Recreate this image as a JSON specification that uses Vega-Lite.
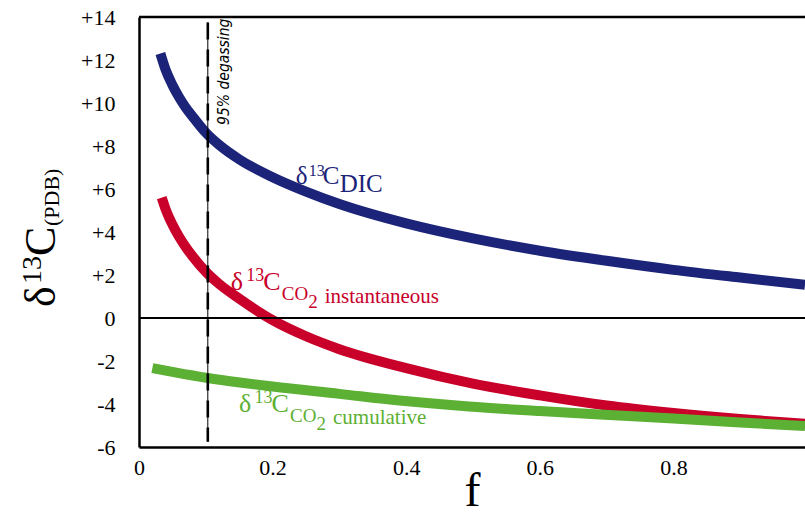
{
  "$schema": "https://vega.github.io/schema/vega-lite/v6.json",
  "width": 666,
  "height": 430,
  "autosize": {"type": "none"},
  "padding": {"left": 139, "top": 17, "right": 0, "bottom": 65},
  "background": "white",
  "config": {"view": {"stroke": null}, "font": "Liberation Serif"},
  "datasets": {
    "curves": [
      {"s": "DIC", "f": 0.032, "d": 12.3}, {"s": "DIC", "f": 0.04, "d": 11.53}, {"s": "DIC", "f": 0.05, "d": 10.84},
      {"s": "DIC", "f": 0.06, "d": 10.27}, {"s": "DIC", "f": 0.07, "d": 9.79}, {"s": "DIC", "f": 0.08, "d": 9.38},
      {"s": "DIC", "f": 0.1, "d": 8.62}, {"s": "DIC", "f": 0.12, "d": 8.05}, {"s": "DIC", "f": 0.15, "d": 7.38},
      {"s": "DIC", "f": 0.2, "d": 6.55}, {"s": "DIC", "f": 0.25, "d": 5.88}, {"s": "DIC", "f": 0.3, "d": 5.3},
      {"s": "DIC", "f": 0.4, "d": 4.4}, {"s": "DIC", "f": 0.5, "d": 3.7}, {"s": "DIC", "f": 0.6, "d": 3.13},
      {"s": "DIC", "f": 0.7, "d": 2.66}, {"s": "DIC", "f": 0.8, "d": 2.24}, {"s": "DIC", "f": 0.9, "d": 1.88},
      {"s": "DIC", "f": 0.997, "d": 1.55},
      {"s": "CO2 instantaneous", "f": 0.034, "d": 5.6}, {"s": "CO2 instantaneous", "f": 0.04, "d": 5.05},
      {"s": "CO2 instantaneous", "f": 0.05, "d": 4.35}, {"s": "CO2 instantaneous", "f": 0.06, "d": 3.78},
      {"s": "CO2 instantaneous", "f": 0.07, "d": 3.3}, {"s": "CO2 instantaneous", "f": 0.08, "d": 2.88},
      {"s": "CO2 instantaneous", "f": 0.1, "d": 2.15}, {"s": "CO2 instantaneous", "f": 0.12, "d": 1.58},
      {"s": "CO2 instantaneous", "f": 0.15, "d": 0.9}, {"s": "CO2 instantaneous", "f": 0.2, "d": -0.1},
      {"s": "CO2 instantaneous", "f": 0.25, "d": -0.85}, {"s": "CO2 instantaneous", "f": 0.3, "d": -1.45},
      {"s": "CO2 instantaneous", "f": 0.4, "d": -2.33}, {"s": "CO2 instantaneous", "f": 0.5, "d": -3.05},
      {"s": "CO2 instantaneous", "f": 0.6, "d": -3.6}, {"s": "CO2 instantaneous", "f": 0.7, "d": -4.07},
      {"s": "CO2 instantaneous", "f": 0.8, "d": -4.42}, {"s": "CO2 instantaneous", "f": 0.9, "d": -4.7},
      {"s": "CO2 instantaneous", "f": 0.997, "d": -4.92},
      {"s": "CO2 cumulative", "f": 0.02, "d": -2.33}, {"s": "CO2 cumulative", "f": 0.054, "d": -2.53},
      {"s": "CO2 cumulative", "f": 0.103, "d": -2.79}, {"s": "CO2 cumulative", "f": 0.151, "d": -3.0},
      {"s": "CO2 cumulative", "f": 0.2, "d": -3.19}, {"s": "CO2 cumulative", "f": 0.3, "d": -3.53},
      {"s": "CO2 cumulative", "f": 0.39, "d": -3.84}, {"s": "CO2 cumulative", "f": 0.494, "d": -4.12},
      {"s": "CO2 cumulative", "f": 0.6, "d": -4.33}, {"s": "CO2 cumulative", "f": 0.69, "d": -4.49},
      {"s": "CO2 cumulative", "f": 0.8, "d": -4.67}, {"s": "CO2 cumulative", "f": 0.9, "d": -4.86},
      {"s": "CO2 cumulative", "f": 0.997, "d": -5.02}
    ],
    "labels": [
      {"s": "DIC", "f": 0.2346, "d": 6.23, "sub": "DIC", "word": ""},
      {"s": "CO2 instantaneous", "f": 0.1373, "d": 1.3, "sub": "CO", "word": "instantaneous"},
      {"s": "CO2 cumulative", "f": 0.1497, "d": -4.36, "sub": "CO", "word": "cumulative"}
    ]
  },
  "layer": [
    {
      "data": {"name": "curves"},
      "transform": [{"filter": "datum.s == 'DIC'"}],
      "mark": {"type": "line", "strokeWidth": 10, "strokeCap": "butt", "interpolate": "monotone"},
      "encoding": {
        "x": {"field": "f", "type": "quantitative",
          "scale": {"domain": [0, 0.997], "nice": false, "zero": false},
          "axis": {"values": [0, 0.2, 0.4, 0.6, 0.8], "labelExpr": "'' + datum.value", "grid": false, "ticks": false, "tickSize": 0,
            "domainColor": "black", "domainWidth": 2.5, "labelFont": "Liberation Serif, Times New Roman, serif", "labelFontSize": 22, "labelColor": "black",
            "labelPadding": 10, "labelFlush": false, "labelOverlap": false,
            "title": "f", "titleFont": "Liberation Serif, Times New Roman, serif", "titleFontSize": 48, "titleFontWeight": "normal", "titleColor": "black", "titlePadding": -11}},
        "y": {"field": "d", "type": "quantitative",
          "scale": {"domain": [-6, 14], "nice": false, "zero": false},
          "axis": {"values": [-6, -4, -2, 0, 2, 4, 6, 8, 10, 12, 14], "labelExpr": "datum.value > 0 ? '+' + datum.value : '' + datum.value",
            "grid": false, "ticks": false, "tickSize": 0, "domainColor": "black", "domainWidth": 2.5,
            "labelFont": "Liberation Serif, Times New Roman, serif", "labelFontSize": 22, "labelColor": "black", "labelPadding": 24, "labelFlush": false, "labelOverlap": false, "title": null}},
        "color": {"field": "s", "type": "nominal", "legend": null,
          "scale": {"domain": ["DIC", "CO2 instantaneous", "CO2 cumulative"], "range": ["#1b2479", "#c8002a", "#5cb033"]}}
      }
    },
    {
      "data": {"name": "curves"},
      "transform": [{"filter": "datum.s == 'CO2 instantaneous'"}],
      "mark": {"type": "line", "strokeWidth": 10, "strokeCap": "butt", "interpolate": "monotone"},
      "encoding": {
        "x": {"field": "f", "type": "quantitative"},
        "y": {"field": "d", "type": "quantitative"},
        "color": {"field": "s", "type": "nominal", "legend": null}
      }
    },
    {
      "data": {"name": "curves"},
      "transform": [{"filter": "datum.s == 'CO2 cumulative'"}],
      "mark": {"type": "line", "strokeWidth": 10, "strokeCap": "butt", "interpolate": "monotone"},
      "encoding": {
        "x": {"field": "f", "type": "quantitative"},
        "y": {"field": "d", "type": "quantitative"},
        "color": {"field": "s", "type": "nominal", "legend": null}
      }
    },
    {
      "data": {"values": [{}]},
      "mark": {"type": "rule", "strokeWidth": 1.8, "color": "black"},
      "encoding": {"y": {"datum": 0}}
    },
    {
      "data": {"values": [{}]},
      "mark": {"type": "rule", "strokeWidth": 2.5, "color": "black"},
      "encoding": {"y": {"datum": 14}}
    },
    {
      "data": {"values": [{}]},
      "mark": {"type": "rule", "strokeWidth": 1, "color": "black"},
      "encoding": {"x": {"datum": 0.103}, "y": {"datum": 13.75}, "y2": {"datum": -5.75}}
    },
    {
      "data": {"values": [{}]},
      "mark": {"type": "rule", "strokeWidth": 2.6, "color": "black", "strokeDash": [17, 10]},
      "encoding": {"x": {"datum": 0.103}, "y": {"datum": 13.75}, "y2": {"datum": -5.75}}
    },
    {
      "data": {"values": [{}]},
      "mark": {"type": "text", "text": "95% degassing", "angle": 270, "align": "left", "baseline": "alphabetic", "dy": 21,
        "font": "DejaVu Sans Condensed, Roboto, sans-serif", "fontStyle": "italic", "fontSize": 15.5, "color": "black"},
      "encoding": {"x": {"datum": 0.103}, "y": {"datum": 8.98}}
    },
    {
      "data": {"name": "labels"},
      "transform": [{"filter": "datum.s == 'DIC'"}],
      "mark": {"type": "text", "text": "δ", "align": "left", "baseline": "alphabetic", "font": "Liberation Serif, Times New Roman, serif", "fontSize": 25},
      "encoding": {"x": {"field": "f", "type": "quantitative"}, "y": {"field": "d", "type": "quantitative"}, "color": {"field": "s", "type": "nominal", "legend": null}}
    },
    {
      "data": {"name": "labels"},
      "transform": [{"filter": "datum.s == 'DIC'"}],
      "mark": {"type": "text", "text": "13", "align": "left", "baseline": "alphabetic", "font": "Liberation Serif, Times New Roman, serif", "fontSize": 16, "dx": 13, "dy": -8},
      "encoding": {"x": {"field": "f", "type": "quantitative"}, "y": {"field": "d", "type": "quantitative"}, "color": {"field": "s", "type": "nominal", "legend": null}}
    },
    {
      "data": {"name": "labels"},
      "transform": [{"filter": "datum.s == 'DIC'"}],
      "mark": {"type": "text", "text": "C", "align": "left", "baseline": "alphabetic", "font": "Liberation Serif, Times New Roman, serif", "fontSize": 25, "dx": 27},
      "encoding": {"x": {"field": "f", "type": "quantitative"}, "y": {"field": "d", "type": "quantitative"}, "color": {"field": "s", "type": "nominal", "legend": null}}
    },
    {
      "data": {"name": "labels"},
      "transform": [{"filter": "datum.s == 'DIC'"}],
      "mark": {"type": "text", "align": "left", "baseline": "alphabetic", "font": "Liberation Serif, Times New Roman, serif", "fontSize": 25, "dx": 44, "dy": 8},
      "encoding": {"x": {"field": "f", "type": "quantitative"}, "y": {"field": "d", "type": "quantitative"}, "text": {"field": "sub"}, "color": {"field": "s", "type": "nominal", "legend": null}}
    },
    {
      "data": {"name": "labels"},
      "transform": [{"filter": "datum.s != 'DIC'"}],
      "mark": {"type": "text", "text": "δ", "align": "left", "baseline": "alphabetic", "font": "Liberation Serif, Times New Roman, serif", "fontSize": 26},
      "encoding": {"x": {"field": "f", "type": "quantitative"}, "y": {"field": "d", "type": "quantitative"}, "color": {"field": "s", "type": "nominal", "legend": null}}
    },
    {
      "data": {"name": "labels"},
      "transform": [{"filter": "datum.s != 'DIC'"}],
      "mark": {"type": "text", "text": "13", "align": "left", "baseline": "alphabetic", "font": "Liberation Serif, Times New Roman, serif", "fontSize": 18, "dx": 15.5, "dy": -9},
      "encoding": {"x": {"field": "f", "type": "quantitative"}, "y": {"field": "d", "type": "quantitative"}, "color": {"field": "s", "type": "nominal", "legend": null}}
    },
    {
      "data": {"name": "labels"},
      "transform": [{"filter": "datum.s != 'DIC'"}],
      "mark": {"type": "text", "text": "C", "align": "left", "baseline": "alphabetic", "font": "Liberation Serif, Times New Roman, serif", "fontSize": 26, "dx": 32.5},
      "encoding": {"x": {"field": "f", "type": "quantitative"}, "y": {"field": "d", "type": "quantitative"}, "color": {"field": "s", "type": "nominal", "legend": null}}
    },
    {
      "data": {"name": "labels"},
      "transform": [{"filter": "datum.s != 'DIC'"}],
      "mark": {"type": "text", "align": "left", "baseline": "alphabetic", "font": "Liberation Serif, Times New Roman, serif", "fontSize": 19, "dx": 51, "dy": 10},
      "encoding": {"x": {"field": "f", "type": "quantitative"}, "y": {"field": "d", "type": "quantitative"}, "text": {"field": "sub"}, "color": {"field": "s", "type": "nominal", "legend": null}}
    },
    {
      "data": {"name": "labels"},
      "transform": [{"filter": "datum.s != 'DIC'"}],
      "mark": {"type": "text", "text": "2", "align": "left", "baseline": "alphabetic", "font": "Liberation Serif, Times New Roman, serif", "fontSize": 19, "dx": 77.5, "dy": 18},
      "encoding": {"x": {"field": "f", "type": "quantitative"}, "y": {"field": "d", "type": "quantitative"}, "color": {"field": "s", "type": "nominal", "legend": null}}
    },
    {
      "data": {"name": "labels"},
      "transform": [{"filter": "datum.s != 'DIC'"}],
      "mark": {"type": "text", "align": "left", "baseline": "alphabetic", "font": "Liberation Serif, Times New Roman, serif", "fontSize": 21, "dx": 94, "dy": 12.7},
      "encoding": {"x": {"field": "f", "type": "quantitative"}, "y": {"field": "d", "type": "quantitative"}, "text": {"field": "word"}, "color": {"field": "s", "type": "nominal", "legend": null}}
    },
    {
      "data": {"values": [{}]},
      "mark": {"type": "text", "text": "δ", "angle": 270, "align": "left", "baseline": "alphabetic", "font": "Liberation Serif, Times New Roman, serif", "fontSize": 44, "color": "black"},
      "encoding": {"x": {"datum": -0.1257}, "y": {"datum": 0.51}}
    },
    {
      "data": {"values": [{}]},
      "mark": {"type": "text", "text": "13", "angle": 270, "align": "left", "baseline": "alphabetic", "font": "Liberation Serif, Times New Roman, serif", "fontSize": 28, "dx": 23, "dy": -14, "color": "black"},
      "encoding": {"x": {"datum": -0.1257}, "y": {"datum": 0.51}}
    },
    {
      "data": {"values": [{}]},
      "mark": {"type": "text", "text": "C", "angle": 270, "align": "left", "baseline": "alphabetic", "font": "Liberation Serif, Times New Roman, serif", "fontSize": 44, "dx": 51, "color": "black"},
      "encoding": {"x": {"datum": -0.1257}, "y": {"datum": 0.51}}
    },
    {
      "data": {"values": [{}]},
      "mark": {"type": "text", "text": "(PDB)", "angle": 270, "align": "left", "baseline": "alphabetic", "font": "Liberation Serif, Times New Roman, serif", "fontSize": 22, "dx": 81, "dy": 4, "color": "black"},
      "encoding": {"x": {"datum": -0.1257}, "y": {"datum": 0.51}}
    }
  ]
}
